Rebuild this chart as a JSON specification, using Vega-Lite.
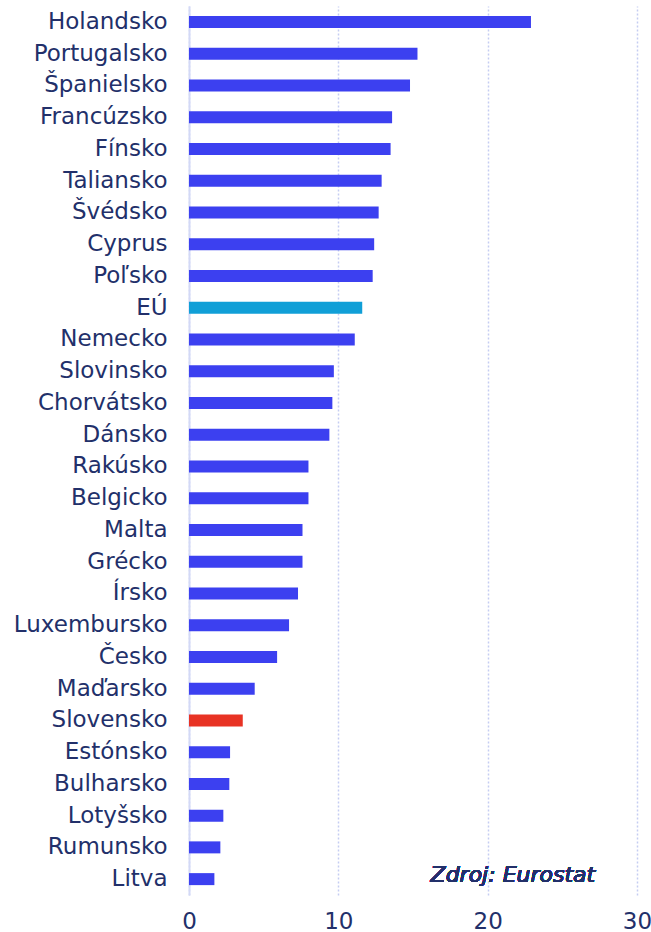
{
  "$schema": "https://vega.github.io/schema/vega-lite/v6.json",
  "autosize": "none",
  "width": 448,
  "height": 889,
  "padding": {"left": 189, "top": 6, "right": 14, "bottom": 37},
  "background": "white",
  "config": {
    "view": {"stroke": null},
    "font": "DejaVu Sans"
  },
  "data": {
    "values": [
      {"krajina": "Holandsko", "hodnota": 22.9, "skupina": "krajina"},
      {"krajina": "Portugalsko", "hodnota": 15.3, "skupina": "krajina"},
      {"krajina": "Španielsko", "hodnota": 14.8, "skupina": "krajina"},
      {"krajina": "Francúzsko", "hodnota": 13.6, "skupina": "krajina"},
      {"krajina": "Fínsko", "hodnota": 13.5, "skupina": "krajina"},
      {"krajina": "Taliansko", "hodnota": 12.9, "skupina": "krajina"},
      {"krajina": "Švédsko", "hodnota": 12.7, "skupina": "krajina"},
      {"krajina": "Cyprus", "hodnota": 12.4, "skupina": "krajina"},
      {"krajina": "Poľsko", "hodnota": 12.3, "skupina": "krajina"},
      {"krajina": "EÚ", "hodnota": 11.6, "skupina": "EÚ"},
      {"krajina": "Nemecko", "hodnota": 11.1, "skupina": "krajina"},
      {"krajina": "Slovinsko", "hodnota": 9.7, "skupina": "krajina"},
      {"krajina": "Chorvátsko", "hodnota": 9.6, "skupina": "krajina"},
      {"krajina": "Dánsko", "hodnota": 9.4, "skupina": "krajina"},
      {"krajina": "Rakúsko", "hodnota": 8.0, "skupina": "krajina"},
      {"krajina": "Belgicko", "hodnota": 8.0, "skupina": "krajina"},
      {"krajina": "Malta", "hodnota": 7.6, "skupina": "krajina"},
      {"krajina": "Grécko", "hodnota": 7.6, "skupina": "krajina"},
      {"krajina": "Írsko", "hodnota": 7.3, "skupina": "krajina"},
      {"krajina": "Luxembursko", "hodnota": 6.7, "skupina": "krajina"},
      {"krajina": "Česko", "hodnota": 5.9, "skupina": "krajina"},
      {"krajina": "Maďarsko", "hodnota": 4.4, "skupina": "krajina"},
      {"krajina": "Slovensko", "hodnota": 3.6, "skupina": "Slovensko"},
      {"krajina": "Estónsko", "hodnota": 2.75, "skupina": "krajina"},
      {"krajina": "Bulharsko", "hodnota": 2.7, "skupina": "krajina"},
      {"krajina": "Lotyšsko", "hodnota": 2.3, "skupina": "krajina"},
      {"krajina": "Rumunsko", "hodnota": 2.1, "skupina": "krajina"},
      {"krajina": "Litva", "hodnota": 1.7, "skupina": "krajina"}
    ]
  },
  "layer": [
    {
      "mark": {"type": "bar", "height": 12},
      "encoding": {
        "y": {
          "field": "krajina",
          "type": "nominal",
          "sort": null,
          "title": null,
          "scale": {"paddingInner": 0, "paddingOuter": 0},
          "axis": {
            "ticks": false,
            "domain": true,
            "domainColor": "#d3d9f6",
            "domainWidth": 2,
            "labelFont": "DejaVu Sans",
            "labelFontSize": 23,
            "labelColor": "#22306a",
            "labelPadding": 22,
            "grid": false
          }
        },
        "x": {
          "field": "hodnota",
          "type": "quantitative",
          "title": null,
          "scale": {"domain": [0, 30], "nice": false},
          "axis": {
            "values": [0, 10, 20, 30],
            "ticks": false,
            "domain": false,
            "grid": true,
            "gridColor": "#c5cdf2",
            "gridDash": [2, 2],
            "gridWidth": 1.5,
            "labelFont": "DejaVu Sans",
            "labelFontSize": 23,
            "labelColor": "#22306a",
            "labelPadding": 15,
            "labelFlush": false
          }
        },
        "color": {
          "field": "skupina",
          "type": "nominal",
          "legend": null,
          "scale": {
            "domain": ["krajina", "EÚ", "Slovensko"],
            "range": ["#3c40f0", "#109fd7", "#e83324"]
          }
        }
      }
    },
    {
      "mark": {
        "type": "text",
        "text": "Zdroj: Eurostat",
        "align": "right",
        "baseline": "middle",
        "font": "DejaVu Sans",
        "fontSize": 22,
        "fontStyle": "italic",
        "fontWeight": "normal",
        "fill": "#22306a",
        "strokeWidth": 0,
        "dy": -4
      },
      "encoding": {
        "x": {"datum": 27.2, "type": "quantitative"},
        "y": {"datum": "Litva", "type": "nominal"}
      }
    }
  ]
}
